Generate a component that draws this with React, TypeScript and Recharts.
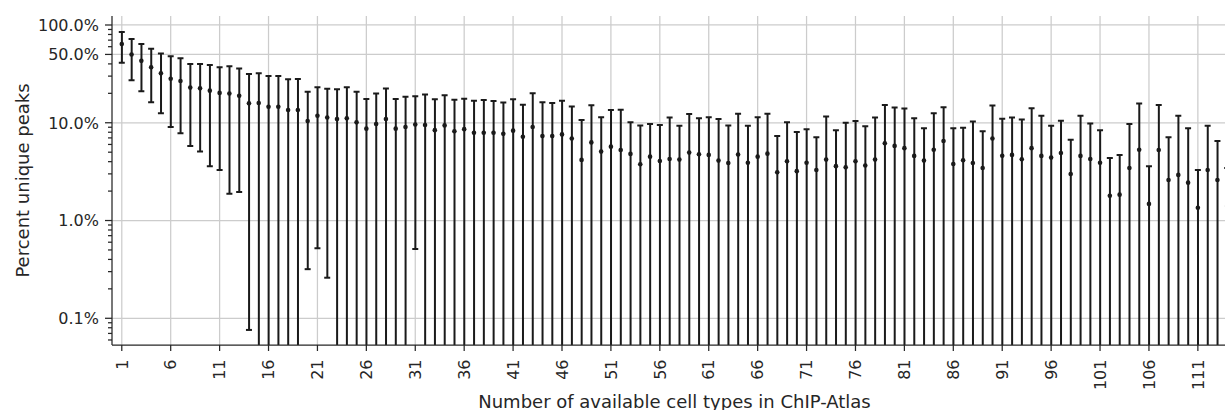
import { Bar, CartesianGrid, ComposedChart, Scatter, XAxis, YAxis } from "recharts";

// percent unique peaks per number of available cell types (1..114)
const meanPct = [
  64, 50, 43, 36.9, 32, 28.2, 26.7, 22.9, 22.5, 21.3,
  20.2, 19.9, 18.9, 15.8, 15.9, 14.6, 14.6, 13.5, 13.5, 10.4,
  11.8, 11.3, 10.9, 11.1, 10.1, 8.7, 9.7, 10.9, 8.7, 9.06,
  9.6, 9.5, 8.4, 9.4, 8.2, 8.6, 7.9, 7.9, 7.9, 7.7,
  8.3, 7.2, 9.06, 7.3, 7.3, 7.6, 6.9, 4.17, 6.3, 5.07,
  5.7, 5.27, 4.8, 3.76, 4.5, 4.07, 4.26, 4.2, 4.95, 4.76,
  4.69, 4.1, 3.88, 4.73, 3.9, 4.5, 4.83, 3.12, 4.04, 3.2,
  3.9, 3.29, 4.2, 3.6, 3.5, 4.04, 3.65, 4.2, 6.17, 5.8,
  5.5, 4.58, 4.1, 5.3, 6.5, 3.79, 4.14, 3.88, 3.45, 6.9,
  4.6, 4.69, 4.24, 5.5, 4.58, 4.4, 4.9, 2.99, 4.58, 4.26,
  3.9, 1.79, 1.84, 3.45, 5.3, 1.48, 5.27, 2.6, 2.93, 2.44,
  1.35, 3.29, 2.6, 1.41,
];

const upperPct = [
  85, 72, 64, 57, 51, 47.9, 45.7, 39.9, 39.9, 39,
  36.9, 37.8, 35.8, 31.5, 32, 30.1, 30, 27.9, 28, 20.7,
  23.1, 22.3, 22, 23.1, 20.7, 17.5, 19.9, 22.4, 17.5, 18.4,
  18.7, 19.4, 17.4, 19.1, 17.2, 17.6, 16.8, 17.1, 16.7, 16.1,
  17.4, 15.3, 20, 16.2, 15.9, 16.8, 14.7, 10.7, 15.1, 11.4,
  13.5, 13.6, 10.1, 9.4, 9.7, 9.5, 11.3, 9.3, 12.3, 11.1,
  11.4, 10.9, 9.4, 12.4, 9.3, 11.4, 12.4, 7.3, 10.1, 8.05,
  8.6, 7.1, 11.6, 8.4, 10, 10.4, 9.2, 11.3, 15.2, 14.3,
  14, 11.1, 8.8, 12.5, 14.4, 8.8, 8.9, 10.3, 8.2, 15,
  11, 11.3, 10.8, 14.1, 11.8, 9.3, 10.5, 6.7, 11.8, 9.8,
  8.4, 4.37, 4.69, 9.7, 15.7, 3.6, 15.2, 7.1, 11.8, 8.8,
  3.29, 9.3, 6.5, 3.45,
];

// 0.01 = lower end falls below the visible axis
const lowerPct = [
  41, 27.2, 21, 16.2, 12.5, 9.06, 7.8, 5.8, 5.07, 3.59,
  3.29, 1.88, 1.96, 0.076, 0.01, 0.01, 0.01, 0.01, 0.01, 0.318,
  0.52, 0.26, 0.01, 0.01, 0.01, 0.01, 0.01, 0.01, 0.01, 0.01,
  0.51, 0.01, 0.01, 0.01, 0.01, 0.01, 0.01, 0.01, 0.01, 0.01,
  0.01, 0.01, 0.01, 0.01, 0.01, 0.01, 0.01, 0.01, 0.01, 0.01,
  0.01, 0.01, 0.01, 0.01, 0.01, 0.01, 0.01, 0.01, 0.01, 0.01,
  0.01, 0.01, 0.01, 0.01, 0.01, 0.01, 0.01, 0.01, 0.01, 0.01,
  0.01, 0.01, 0.01, 0.01, 0.01, 0.01, 0.01, 0.01, 0.01, 0.01,
  0.01, 0.01, 0.01, 0.01, 0.01, 0.01, 0.01, 0.01, 0.01, 0.01,
  0.01, 0.01, 0.01, 0.01, 0.01, 0.01, 0.01, 0.01, 0.01, 0.01,
  0.01, 0.01, 0.01, 0.01, 0.01, 0.01, 0.01, 0.01, 0.01, 0.01,
  0.01, 0.01, 0.01, 0.01,
];

const xTicks = [1, 6, 11, 16, 21, 26, 31, 36, 41, 46, 51, 56, 61, 66, 71, 76, 81, 86, 91, 96, 101, 106, 111];
const yMajorTicks = [0.1, 1, 10, 50, 100];
const yMinorTicks = [
  0.06, 0.07, 0.08, 0.09,
  0.2, 0.3, 0.4, 0.5, 0.6, 0.7, 0.8, 0.9,
  2, 3, 4, 5, 6, 7, 8, 9,
  20, 30, 40, 60, 70, 80, 90,
];
const yDomain = [0.0533, 123.6];

const data = meanPct.map((m, i) => ({
  n: i + 1,
  mean: m,
  upper: upperPct[i],
  lower: lowerPct[i],
  range: [lowerPct[i], upperPct[i]],
}));
// only lower caps that land inside the axis are drawn
const lowerCaps = data.filter((d) => d.lower > yDomain[0]);

const INK = "#262626";
const MARK = "#1a1a1a";
const FONT = "'DejaVu Sans', sans-serif";

function formatPct(v: number): string {
  return `${v.toFixed(1)}%`;
}

function YTick(props: any) {
  const { x, y, payload } = props;
  const major = yMajorTicks.includes(payload.value);
  return (
    <g>
      <line x1={x - (major ? 7 : 4)} x2={x} y1={y} y2={y} stroke={INK} strokeWidth={1.25} />
      {major && (
        <text x={x - 13} y={y} dy="0.36em" textAnchor="end" fontSize={16} fontFamily={FONT} fill={INK}>
          {formatPct(payload.value)}
        </text>
      )}
    </g>
  );
}

function XTick(props: any) {
  const { x, y, payload } = props;
  const ty = y + 14.5;
  return (
    <g>
      <line x1={x} x2={x} y1={y} y2={y + 6} stroke={INK} strokeWidth={1.25} />
      <text
        x={x}
        y={ty}
        dy="0.36em"
        transform={`rotate(-90, ${x}, ${ty})`}
        textAnchor="end"
        fontSize={16}
        fontFamily={FONT}
        fill={INK}
      >
        {payload.value}
      </text>
    </g>
  );
}

function XLabel(props: any) {
  const { viewBox } = props;
  return (
    <text
      x={viewBox.x + viewBox.width / 2}
      y={viewBox.y + 62.5}
      textAnchor="middle"
      fontSize={18}
      fontFamily={FONT}
      fill={INK}
    >
      Number of available cell types in ChIP-Atlas
    </text>
  );
}

function YLabel(props: any) {
  const { viewBox } = props;
  const lx = viewBox.x + 29;
  const ly = viewBox.y + viewBox.height / 2;
  return (
    <text
      x={lx}
      y={ly}
      transform={`rotate(-90, ${lx}, ${ly})`}
      textAnchor="middle"
      fontSize={18}
      fontFamily={FONT}
      fill={INK}
    >
      Percent unique peaks
    </text>
  );
}

function Dot(props: any) {
  return <circle cx={props.cx} cy={props.cy} r={2.3} fill={MARK} />;
}

function Cap(props: any) {
  return <line x1={props.cx - 3} x2={props.cx + 3} y1={props.cy} y2={props.cy} stroke={MARK} strokeWidth={2} />;
}

export default function App() {
  return (
    <div
      style={{
        position: "absolute",
        left: 0,
        top: 0,
        width: 1225,
        height: 410,
        overflow: "hidden",
        background: "#fff",
      }}
    >
      <ComposedChart width={1237} height={410} data={data} margin={{ top: 16, right: 0, bottom: 0, left: 0 }}>
        <CartesianGrid
          stroke="#cccccc"
          strokeWidth={1.25}
          horizontalValues={yMajorTicks}
          verticalValues={xTicks}
        />
        <XAxis
          dataKey="n"
          type="number"
          domain={[0, 115]}
          ticks={xTicks}
          interval={0}
          height={65}
          tickSize={0}
          tickMargin={0}
          tickLine={false}
          tick={<XTick />}
          axisLine={{ stroke: INK, strokeWidth: 1.25 }}
          label={<XLabel />}
        />
        <XAxis
          xAxisId="top"
          orientation="top"
          dataKey="n"
          type="number"
          domain={[0, 115]}
          height={0}
          tick={false}
          tickLine={false}
          axisLine={{ stroke: INK, strokeWidth: 1.25 }}
        />
        <YAxis
          scale="log"
          type="number"
          domain={yDomain}
          allowDataOverflow
          ticks={[...yMinorTicks, ...yMajorTicks].sort((a, b) => a - b)}
          interval={0}
          width={112}
          tickSize={0}
          tickMargin={0}
          tickLine={false}
          tick={<YTick />}
          axisLine={{ stroke: INK, strokeWidth: 1.25 }}
          label={<YLabel />}
        />
        <Bar dataKey="range" barSize={2} fill={MARK} isAnimationActive={false} />
        <Scatter dataKey="upper" isAnimationActive={false} shape={<Cap />} />
        <Scatter data={lowerCaps} dataKey="lower" isAnimationActive={false} shape={<Cap />} />
        <Scatter dataKey="mean" isAnimationActive={false} shape={<Dot />} />
      </ComposedChart>
    </div>
  );
}
